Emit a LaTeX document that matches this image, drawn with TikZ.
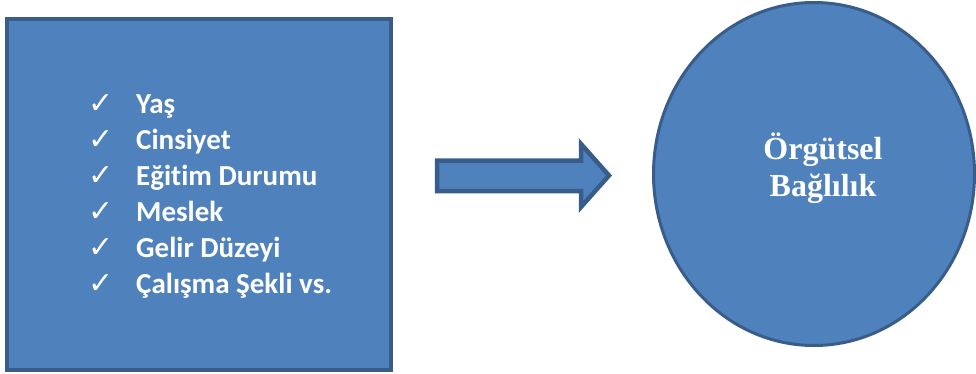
\documentclass[tikz,border=0pt]{standalone}
\usepackage{fontspec}
\setmainfont{Liberation Serif}
\newfontfamily\itemfont[Ligatures=NoCommon]{Carlito}
\newfontfamily\tickfont{DejaVu Sans}
\usetikzlibrary{shapes.geometric}
\definecolor{boxblue}{HTML}{4F81BD}
\definecolor{edgeblue}{HTML}{385D8A}

\begin{document}
\begin{tikzpicture}[x=1pt,y=-1pt,
    blueshape/.style={fill=boxblue,draw=edgeblue},
    itemtext/.style={anchor=base west,inner sep=0pt,text=white,font=\itemfont\bfseries\fontsize{29}{34}\selectfont},
    tickmark/.style={anchor=base west,inner sep=0pt,text=white,font=\tickfont\fontsize{30}{34}\selectfont}]

    \useasboundingbox (0,0) rectangle (976,373);

    % Demographic factors
    \draw[blueshape,line width=4pt] (7,19) rectangle (391,370);
    \foreach \txt [count=\i] in {Yaş,Cinsiyet,Eğitim Durumu,Meslek,Gelir Düzeyi,Çalışma Şekli vs.}{
        \node[tickmark] (tick\i) at (88,{113+36*(\i-1)}) {✓};
        \node[itemtext] (item\i) at (136,{113+36*(\i-1)}) {\txt};
    }

    % Block arrow
    \draw[blueshape,line width=4.5pt,line join=miter]
        (437,160.5) -- (581,160.5) -- (581,144) -- (609,175.5)
        -- (581,207) -- (581,191) -- (437,191) -- cycle;

    % Organisational commitment
    \node[blueshape,ellipse,line width=3pt,minimum width=321pt,minimum height=343pt] (commit) at (814,174) {};
    \node[text=white,font=\bfseries\fontsize{32}{37}\selectfont,align=center] (commitlabel) at (823,168) {Örgütsel\\Bağlılık};

\end{tikzpicture}
\end{document}
